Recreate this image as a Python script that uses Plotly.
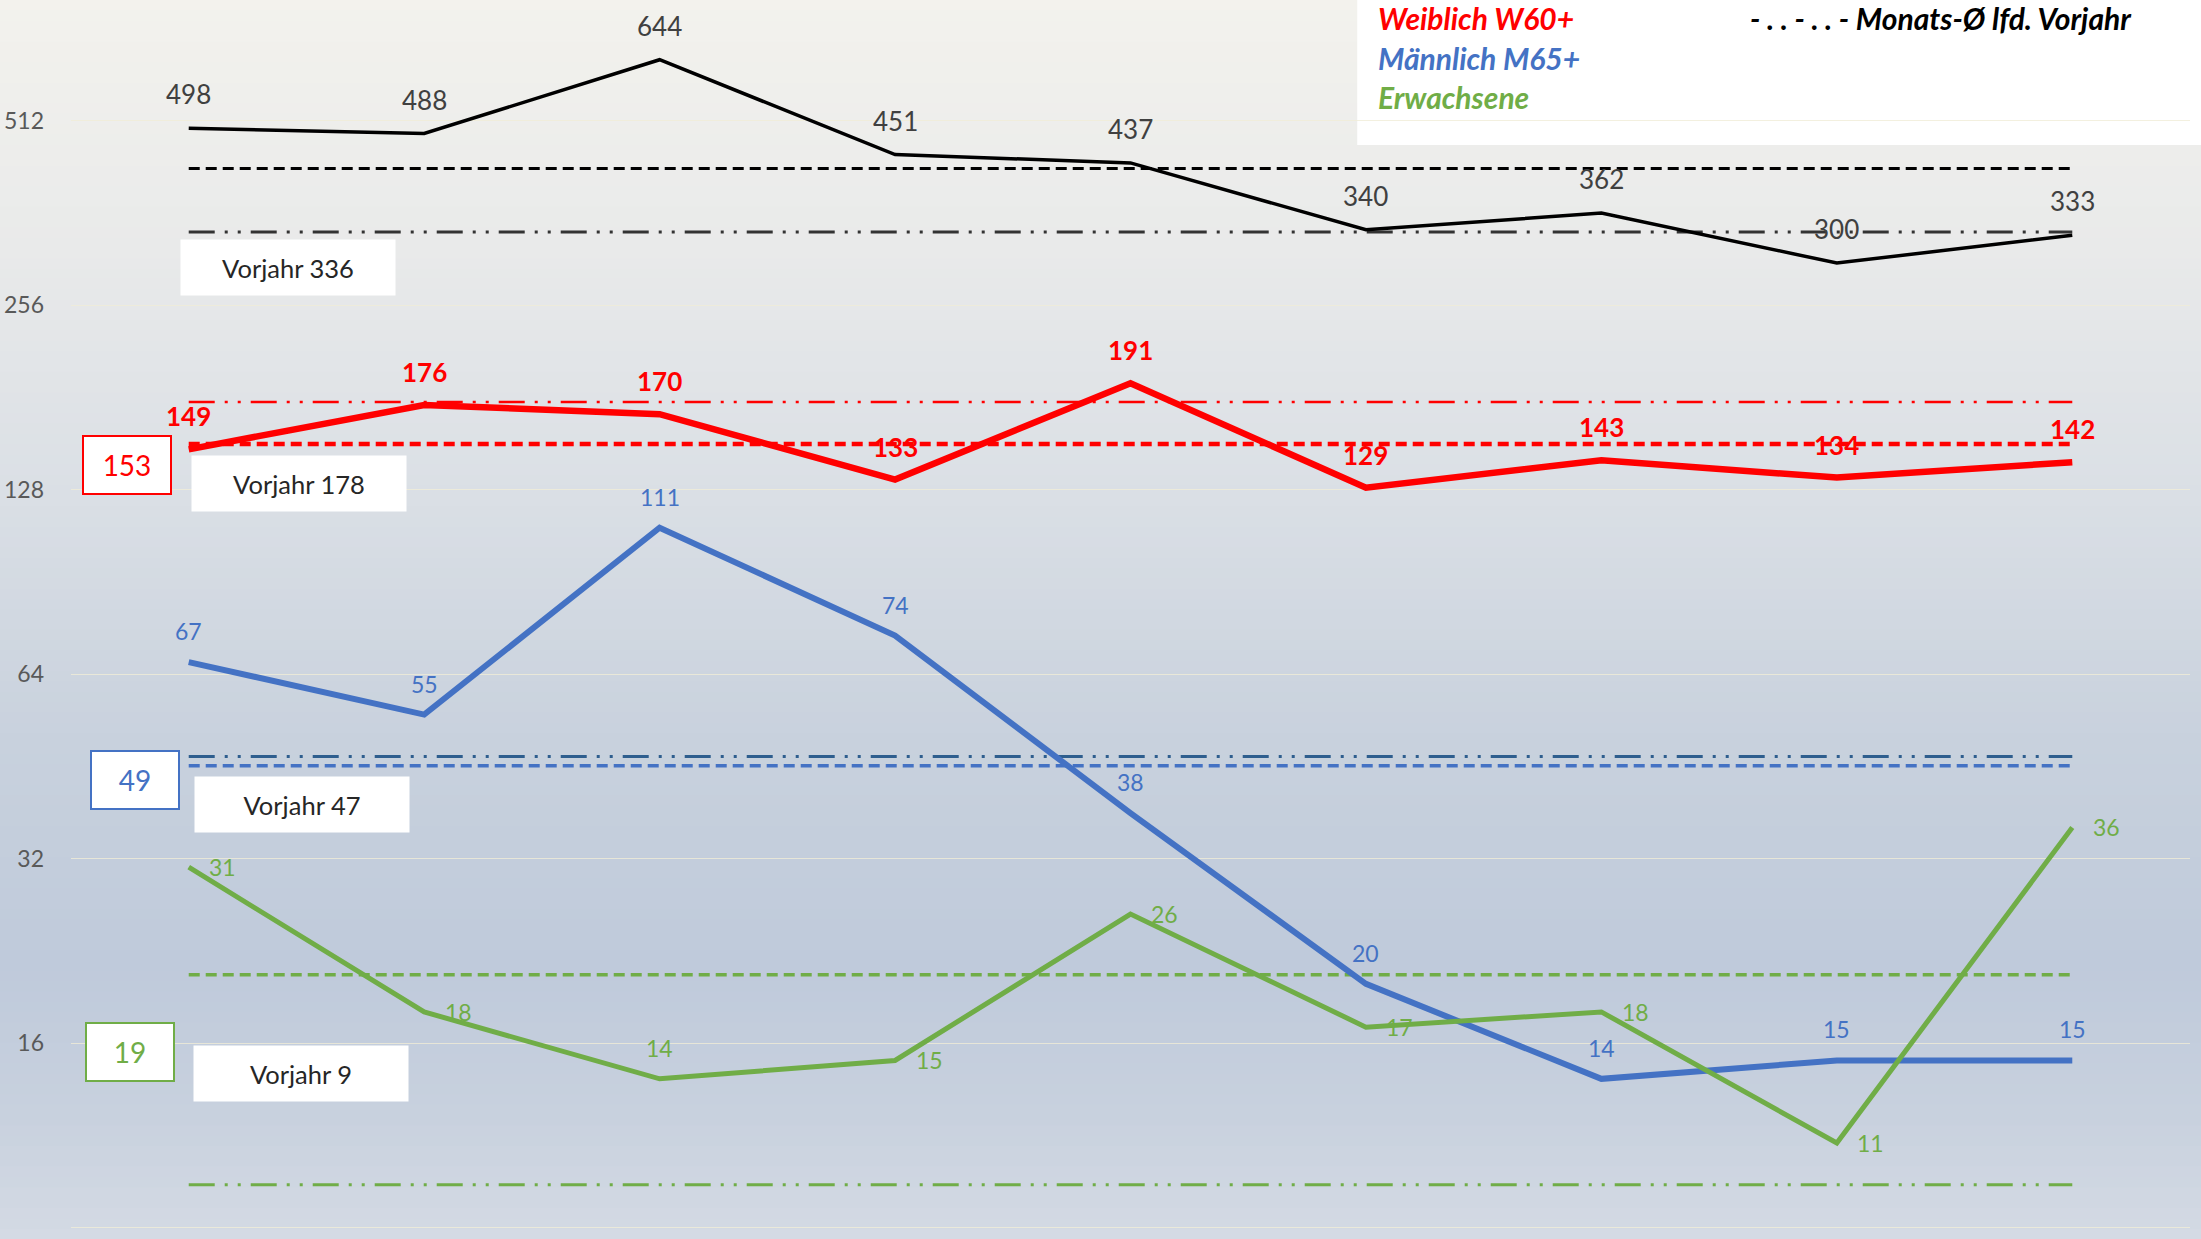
import math
import plotly.graph_objects as go

# ---------------- data ----------------
monate = ["Jan", "Feb", "Mär", "Apr", "Mai", "Jun", "Jul", "Aug", "Sep"]
gesamt = [498, 488, 644, 451, 437, 340, 362, 300, 333]
weiblich = [149, 176, 170, 133, 191, 129, 143, 134, 142]
maennlich = [67, 55, 111, 74, 38, 20, 14, 15, 15]
erwachsene = [31, 18, 14, 15, 26, 17, 18, 11, 36]

# monthly averages current year (dashed) and previous year (dash-dot)
avg_lfd = [428, 152, 45.4, 20.7]
avg_vorjahr = [337, 178, 47, 9.4]
vorjahr_text = ["Vorjahr 336", "Vorjahr 178", "Vorjahr 47", "Vorjahr 9"]
box_text = ["153", "49", "19"]

y_ticks = [8, 16, 32, 64, 128, 256, 512]
legend_text = ["Weiblich W60+", "Männlich M65+", "Erwachsene"]
legend_note = "- . . - . . - Monats-Ø lfd. Vorjahr"

# ---------------- styles ----------------
FONT = "Lato, 'Open Sans', sans-serif"
C_BLACK, C_RED, C_BLUE, C_GREEN = "#000000", "#ff0000", "#4472c4", "#70ad47"
C_BLUE_DARK = "#2e5e8e"
DASH = "11px,6px"
DASHDOT = "26px,10px,3px,10px,3px,10px"

x = list(range(len(monate)))
xe = [x[0], x[-1]]
L = math.log10  # annotation coordinates on a log axis are given in log10

fig = go.Figure()

# reference lines
ref_styles = [
    (C_BLACK, 3, "#333333", 3),
    (C_RED, 4.5, C_RED, 2.5),
    (C_BLUE, 3.5, C_BLUE_DARK, 3),
    (C_GREEN, 3.5, C_GREEN, 3),
]
for a, v, (cd, wd, cdd, wdd) in zip(avg_lfd, avg_vorjahr, ref_styles):
    fig.add_trace(go.Scatter(x=xe, y=[v, v], mode="lines",
                             line=dict(color=cdd, width=wdd, dash=DASHDOT),
                             hoverinfo="skip", showlegend=False))
    fig.add_trace(go.Scatter(x=xe, y=[a, a], mode="lines",
                             line=dict(color=cd, width=wd, dash=DASH),
                             hoverinfo="skip", showlegend=False))

series = [
    (gesamt, C_BLACK, 3.5),
    (weiblich, C_RED, 6.5),
    (maennlich, C_BLUE, 6),
    (erwachsene, C_GREEN, 5),
]
for vals, col, w in series:
    fig.add_trace(go.Scatter(x=x, y=vals, mode="lines",
                             line=dict(color=col, width=w),
                             showlegend=False))

annotations = []
# data labels (default offset per series, with per-point overrides)
label_styles = [
    (gesamt, "#404040", 26, False, (0, 34), {}),
    (weiblich, C_RED, 26, True, (0, 33), {}),
    (maennlich, C_BLUE, 23, False, (0, 31), {}),
    (erwachsene, C_GREEN, 23, False, (34, 0), {2: (0, 31)}),
]
for vals, col, size, bold, off, special in label_styles:
    for xi, v in zip(x, vals):
        xs, ys = special.get(xi, off)
        t = f"<b>{v}</b>" if bold else str(v)
        annotations.append(dict(x=xi, y=L(v), yref="y", xref="x", text=t,
                                showarrow=False, xshift=xs, yshift=ys,
                                font=dict(family=FONT, size=size, color=col)))

# Vorjahr boxes
vj_pos = [(0.42, 294.6), (0.467, 130.9), (0.48, 39.2), (0.475, 14.3)]
for (bx, by), t in zip(vj_pos, vorjahr_text):
    annotations.append(dict(x=bx, y=L(by), xref="x", yref="y", text=t,
                            showarrow=False, bgcolor="white",
                            width=212, height=53,
                            font=dict(family=FONT, size=25.5, color="#262626")))

# current-average boxes
box_pos = [(-0.263, 140.6, C_RED), (-0.229, 43.1, C_BLUE), (-0.25, 15.46, C_GREEN)]
for (bx, by, col), t in zip(box_pos, box_text):
    annotations.append(dict(x=bx, y=L(by), xref="x", yref="y", text=t,
                            showarrow=False, bgcolor="white",
                            bordercolor=col, borderwidth=2,
                            width=84, height=54,
                            font=dict(family=FONT, size=28, color=col)))

# legend texts
leg_cols = [C_RED, C_BLUE, C_GREEN]
leg_y = [0.9855, 0.953, 0.9217]
for t, c, yy in zip(legend_text, leg_cols, leg_y):
    annotations.append(dict(x=0.6158, y=yy, xref="paper", yref="paper",
                            xanchor="left", yanchor="middle", text=f"<b><i>{t}</i></b>",
                            showarrow=False,
                            font=dict(family=FONT, size=30, color=c)))
annotations.append(dict(x=0.7914, y=0.9855, xref="paper", yref="paper",
                        xanchor="left", yanchor="middle", text=f"<b><i>{legend_note}</i></b>",
                        showarrow=False,
                        font=dict(family=FONT, size=30, color="#000000")))

# background gradient bands
stops = [
    (0.0, (243, 242, 237)),
    (0.2, (233, 234, 234)),
    (0.4, (218, 223, 229)),
    (0.6, (200, 209, 221)),
    (0.78, (191, 202, 219)),
    (0.9, (200, 209, 222)),
    (1.0, (212, 218, 228)),
]


def col_at(f):
    for (f0, c0), (f1, c1) in zip(stops[:-1], stops[1:]):
        if f0 <= f <= f1:
            t = (f - f0) / (f1 - f0)
            return "rgb(%d,%d,%d)" % tuple(round(a + (b - a) * t) for a, b in zip(c0, c1))
    return "rgb(%d,%d,%d)" % stops[-1][1]


shapes = []
N = 120
for i in range(N):
    f = (i + 0.5) / N
    shapes.append(dict(type="rect", xref="paper", yref="paper",
                       x0=-0.05, x1=1.01, y0=1 - (i + 1) / N - 0.001, y1=1 - i / N,
                       fillcolor=col_at(f), line=dict(width=0), layer="below"))
# legend white box
shapes.append(dict(type="rect", xref="paper", yref="paper",
                   x0=0.607, x1=1.01, y0=0.883, y1=1.0,
                   fillcolor="white", line=dict(width=0), layer="below"))

fig.update_layout(
    width=2201, height=1239,
    margin=dict(l=71, r=11, t=0, b=0),
    paper_bgcolor="rgb(212,218,228)",
    plot_bgcolor="rgba(0,0,0,0)",
    shapes=shapes,
    annotations=annotations,
    showlegend=False,
    xaxis=dict(range=[-0.5, 8.5], showgrid=False, zeroline=False,
               showticklabels=False, showline=False, ticks=""),
    yaxis=dict(type="log", range=[0.8848, 2.9063], tickvals=y_ticks,
               ticktext=[str(v) for v in y_ticks], showgrid=True,
               gridcolor="rgba(240,236,215,0.8)", gridwidth=1,
               zeroline=False, showline=False, ticks="",
               ticklabelstandoff=26,
               tickfont=dict(family=FONT, size=23, color="#595959")),
)

fig.write_html("out.html", config={"displayModeBar": False},
               post_script="document.body.style.margin='0';document.body.style.overflow='hidden';")
